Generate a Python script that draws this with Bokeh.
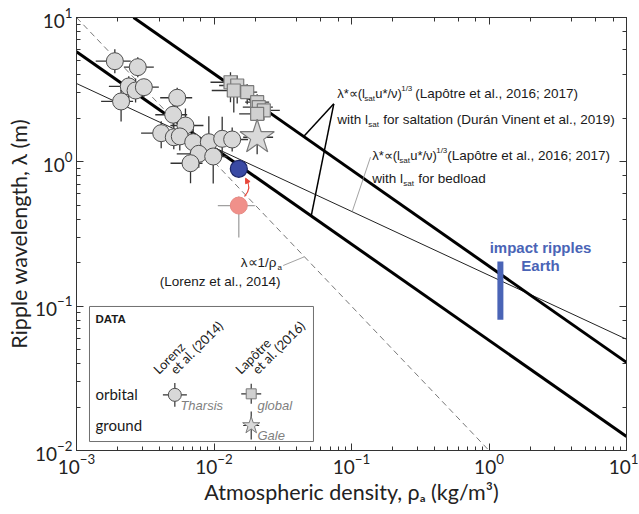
import numpy as np
from bokeh.plotting import figure
from bokeh.models import (LogAxis, Label, Range1d, Arrow, NormalHead, CustomJSTickFormatter)
from bokeh.embed import file_html
from bokeh.resources import INLINE

# ---------------- data ----------------
# Lorenz et al. (2014), orbital, Tharsis
lor_x = [0.0019, 0.00279, 0.0024, 0.00269, 0.00309, 0.00211, 0.0054, 0.00505, 0.0062, 0.00413,
         0.0051, 0.00564, 0.00706, 0.00917, 0.01147, 0.01356, 0.00775, 0.00987, 0.00675]
lor_y = [4.98, 4.53, 3.33, 3.12, 3.29, 2.62, 2.78, 2.12, 1.785, 1.58,
         1.48, 1.50, 1.368, 1.368, 1.444, 1.428, 1.137, 1.089, 0.978]
lor_xlo = [0.00138, 0.00221, 0.00172, 0.00209, 0.0024, 0.00151, 0.00406, 0.00374, 0.00482, 0.00295,
           0.00397, 0.00461, 0.0054, 0.0075, 0.00938, 0.0111, 0.00536, 0.00781, 0.00483]
lor_xhi = [0.00248, 0.00365, 0.00309, 0.00346, 0.00397, 0.00258, 0.00694, 0.00638, 0.00838, 0.00488,
           0.00656, 0.00725, 0.00893, 0.0116, 0.0145, 0.0177, 0.0098, 0.0125, 0.00825]
lor_ylo = [4.11, 3.86, 2.75, 2.58, 2.80, 1.90, 2.30, 1.75, 1.34, 1.24,
           1.22, 1.20, 0.994, 0.994, 1.12, 1.18, 0.909, 0.708, 0.711]
lor_yhi = [6.03, 5.31, 3.91, 3.78, 3.74, 3.17, 3.26, 2.61, 2.34, 1.91,
           1.88, 1.76, 1.88, 2.07, 2.05, 1.73, 1.42, 1.36, 1.18]

# corrected point (blue) and original point (pink)
blue_x = [0.01515]
blue_y = [0.895]
pink_x = [0.01515]
pink_y = [0.498]
pink_xlo, pink_xhi = [0.01066], [0.0198]
pink_ylo, pink_yhi = [0.299], [0.575]

# Lapotre et al. (2016), orbital, global
lap_x = [0.01318, 0.01475, 0.01393, 0.01744, 0.0206, 0.02118, 0.02303, 0.0206]
lap_y = [3.56, 3.38, 3.12, 3.04, 2.59, 2.39, 2.27, 2.15]
lap_xlo = [0.00943, 0.0109, 0.00963, 0.0138, 0.01685, 0.0162, 0.01948, 0.01524]
lap_xhi = [0.01558, 0.01744, 0.01593, 0.0206, 0.0252, 0.0268, 0.0301, 0.0244]
lap_ylo = [2.59, 2.54, 2.20, 2.51, 2.07, 2.04, 1.94, 1.83]
lap_yhi = [4.18, 3.96, 3.54, 3.45, 2.94, 2.72, 2.58, 2.44]

# Lapotre et al. (2016), ground, Gale
gale_x, gale_y = [0.0206], [1.48]
gale_xlo, gale_xhi = [0.0163], [0.0269]
gale_ylo, gale_yhi = [1.13], [1.91]

# model lines (end points)
salt_hi_x, salt_hi_y = [0.0026, 10.0], [10.0, 0.0408]
salt_lo_x, salt_lo_y = [0.001, 10.0], [5.79, 0.0125]
bed_x, bed_y = [0.001, 10.0], [3.49, 0.059]
inv_x, inv_y = [0.001, 1.0], [10.0, 0.01]

# impact ripples on Earth
earth_x = [1.21]
earth_ylo, earth_yhi = [0.0804], [0.204]

# ---------------- figure ----------------
FONT = "Lato"
ANN = "Liberation Sans"

p = figure(x_axis_type="log", y_axis_type="log",
           x_range=Range1d(1e-3, 10), y_range=Range1d(1e-2, 10),
           frame_width=550, frame_height=433,
           min_border_left=76, min_border_right=12, min_border_top=17, min_border_bottom=10,
           output_backend="svg", toolbar_location=None)
p.xgrid.visible = False
p.ygrid.visible = False
p.outline_line_color = "#333333"
p.background_fill_color = "white"


def style_axis(ax):
    ax.major_tick_in = 7
    ax.major_tick_out = 0
    ax.minor_tick_in = 4
    ax.minor_tick_out = 0
    ax.axis_line_color = "#333333"
    ax.major_tick_line_color = "#333333"
    ax.minor_tick_line_color = "#333333"


for ax in (p.xaxis[0], p.yaxis[0]):
    style_axis(ax)
    ax.major_label_text_font = FONT
    ax.major_label_text_font_size = "19px"
    ax.major_label_text_color = "#222222"
    ax.axis_label_text_font = FONT
    ax.axis_label_text_font_size = "21.5px"
    ax.axis_label_text_font_style = "normal"
    ax.axis_label_text_color = "#222222"

p.xaxis.axis_label = "Atmospheric density, ρₐ (kg/m³)"
p.yaxis.axis_label = "Ripple wavelength, λ (m)"
p.xaxis.major_label_standoff = 3
p.xaxis.axis_label_standoff = 2
p.yaxis.major_label_standoff = 4
p.yaxis.axis_label_standoff = 0

for place in ("above", "right"):
    ax = LogAxis(formatter=CustomJSTickFormatter(code="return ''"),
                 major_label_text_font_size="0px", major_label_standoff=0)
    style_axis(ax)
    p.add_layout(ax, place)

# ---------------- model lines ----------------
p.line(inv_x, inv_y, line_color="#777777", line_width=1, line_dash="6 4")
p.line(bed_x, bed_y, line_color="#222222", line_width=1)
p.line(salt_hi_x, salt_hi_y, line_color="black", line_width=3)
p.line(salt_lo_x, salt_lo_y, line_color="black", line_width=3)

# Earth impact ripples
p.segment(earth_x, earth_ylo, earth_x, earth_yhi, line_color="#4a64b6", line_width=6, line_cap="butt")

# ---------------- data points ----------------
EB = "#333333"
p.segment(lap_xlo, lap_y, lap_xhi, lap_y, line_color=EB, line_width=1.3)
p.segment(lap_x, lap_ylo, lap_x, lap_yhi, line_color=EB, line_width=1.3)
p.scatter(lap_x, lap_y, marker="square", size=13, fill_color="#d0d0d0", line_color="#7a7a7a", line_width=1.2)

p.segment(gale_xlo, gale_y, gale_xhi, gale_y, line_color=EB, line_width=1.3)
p.segment(gale_x, gale_ylo, gale_x, gale_yhi, line_color=EB, line_width=1.3)
p.scatter(gale_x, gale_y, marker="star", size=36, fill_color="#d9d9d9", line_color="#7a7a7a", line_width=1.2)

p.segment(lor_xlo, lor_y, lor_xhi, lor_y, line_color=EB, line_width=1.3)
p.segment(lor_x, lor_ylo, lor_x, lor_yhi, line_color=EB, line_width=1.3)
p.scatter(lor_x, lor_y, marker="circle", size=17, fill_color="#d8d8d8", line_color="#4d4d4d", line_width=1)

p.segment(pink_xlo, pink_y, pink_xhi, pink_y, line_color="#a0a0a0", line_width=1.3)
p.segment(pink_x, pink_ylo, pink_x, pink_yhi, line_color="#a0a0a0", line_width=1.3)
p.scatter(pink_x, pink_y, marker="circle", size=17, fill_color="#f0908a", line_color="#e88a84", line_width=1)
p.scatter(blue_x, blue_y, marker="circle", size=17, fill_color="#3a4aa4", line_color="#1e2868", line_width=1.2)

# red curved arrow from pink to blue
RED = "#e8473a"
p.quadratic(x0=[0.01667], y0=[0.575], x1=[0.01700], y1=[0.76], cx=[0.01905], cy=[0.664],
            line_color=RED, line_width=1.2)
p.add_layout(Arrow(end=NormalHead(size=5, fill_color=RED, line_color=RED),
                   x_start=0.0174, y_start=0.735, x_end=0.01697, y_end=0.77,
                   line_color=RED, line_width=1.2))

# ---------------- leader lines ----------------
p.segment([0.07436, 0.07436], [2.523, 2.523], [0.0449, 0.0509], [1.497, 0.421],
          line_color="black", line_width=1.5)
p.segment([0.1374], [1.077], [0.1012], [0.4519], line_color="#8a8a8a", line_width=0.8)
p.segment([0.03187], [0.1913], [0.04547], [0.2199], line_color="#8a8a8a", line_width=0.8)


# ---------------- text helper ----------------
def txt(x, y, s, size=13.5, font=ANN, color="#1a1a1a", dx=0, dy=0, align="left",
        baseline="middle", style="normal", angle=0.0):
    p.add_layout(Label(x=x, y=y, text=s, x_offset=dx, y_offset=dy, text_font=font,
                       text_font_size=f"{size}px", text_color=color, text_align=align,
                       text_baseline=baseline, text_font_style=style, angle=angle))


# saltation annotation
ax1, ay1, ay2 = 0.0787, 2.975, 1.965
txt(ax1, ay1, "λ*∝(l", size=13)
txt(ax1, ay1, "sat", size=8, dx=27, dy=-5)
txt(ax1, ay1, "u*/ν)", size=13, dx=38)
txt(ax1, ay1, "1/3", size=8, dx=64, dy=5)
txt(ax1, ay1, "(Lapôtre et al., 2016; 2017)", dx=78)
txt(ax1, ay2, "with l")
txt(ax1, ay2, "sat", size=8, dx=31, dy=-5)
txt(ax1, ay2, "for saltation (Durán Vinent et al., 2019)", dx=46)

# bedload annotation
bx1, by1, by2 = 0.1414, 1.106, 0.766
txt(bx1, by1, "λ*∝(l", size=13)
txt(bx1, by1, "sat", size=8, dx=27, dy=-5)
txt(bx1, by1, "u*/ν)", size=13, dx=38)
txt(bx1, by1, "1/3", size=8, dx=64, dy=5)
txt(bx1, by1, "(Lapôtre et al., 2016; 2017)", dx=75)
txt(bx1, by2, "with l")
txt(bx1, by2, "sat", size=8, dx=31, dy=-5)
txt(bx1, by2, "for bedload", dx=46)

# 1/rho annotation
txt(0.02847, 0.2007, "λ∝1/ρ", align="right")
txt(0.02847, 0.2007, "a", size=8, dx=1, dy=-5)
txt(0.03045, 0.1482, "(Lorenz et al., 2014)", align="right")

# Earth
txt(2.369, 0.2562, "impact ripples", size=15, color="#4a64b6", style="bold", align="center")
txt(2.369, 0.1913, "Earth", size=15, color="#4a64b6", style="bold", align="center")

# ---------------- inset legend ----------------
p.quad(left=[0.001243], right=[0.0529], top=[0.0995], bottom=[0.01154],
       fill_color="white", line_color="#707070", line_width=1)
txt(0.001374, 0.0821, "DATA", size=11.5, style="bold")
txt(0.001374, 0.0248, "orbital", size=15, font=FONT)
txt(0.001374, 0.0151, "ground", size=15, font=FONT)
ang = np.pi / 4
txt(0.003753, 0.03526, "Lorenz", size=13, font=FONT, baseline="alphabetic", angle=ang)
txt(0.004991, 0.03526, "et al. (2014)", size=13, font=FONT, baseline="alphabetic", angle=ang)
txt(0.01483, 0.03526, "Lapôtre", size=13, font=FONT, baseline="alphabetic", angle=ang)
txt(0.0197, 0.03526, "et al. (2016)", size=13, font=FONT, baseline="alphabetic", angle=ang)

leg_c_x, leg_c_y = [0.00519], [0.0243]
leg_s_x, leg_s_y = [0.01865], [0.0247]
leg_g_x, leg_g_y = [0.01865], [0.0149]
p.segment([0.00425], leg_c_y, [0.00635], leg_c_y, line_color=EB, line_width=1.2)
p.segment(leg_c_x, [0.0201], leg_c_x, [0.0294], line_color=EB, line_width=1.2)
p.scatter(leg_c_x, leg_c_y, marker="circle", size=13, fill_color="#d8d8d8", line_color="#4d4d4d")
p.segment([0.01578], leg_s_y, [0.02205], leg_s_y, line_color=EB, line_width=1.2)
p.segment(leg_s_x, [0.0211], leg_s_x, [0.029], line_color=EB, line_width=1.2)
p.scatter(leg_s_x, leg_s_y, marker="square", size=10, fill_color="#d0d0d0", line_color="#7a7a7a")
p.segment([0.0163], leg_g_y, [0.0213], leg_g_y, line_color=EB, line_width=1.2)
p.segment(leg_g_x, [0.0119], leg_g_x, [0.0186], line_color=EB, line_width=1.2)
p.scatter(leg_g_x, leg_g_y, marker="star", size=18, fill_color="#d9d9d9", line_color="#7a7a7a")
txt(0.0057, 0.0205, "Tharsis", size=13, color="#7f7f7f", style="italic")
txt(0.0207, 0.0205, "global", size=13, color="#7f7f7f", style="italic")
txt(0.0207, 0.0127, "Gale", size=13, color="#7f7f7f", style="italic")

open("out.html", "w").write(file_html(p, INLINE))
